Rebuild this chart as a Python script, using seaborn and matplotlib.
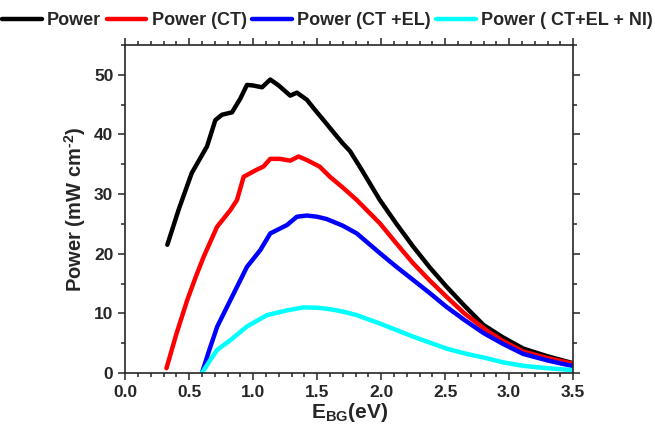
import numpy as np
import pandas as pd
import matplotlib
matplotlib.use("Agg")
import matplotlib.pyplot as plt
import seaborn as sns
from matplotlib.ticker import MultipleLocator

# data
x_power = [0.33, 0.42, 0.52, 0.60, 0.64, 0.705, 0.757, 0.835, 0.90, 0.952, 1.00, 1.07, 1.134, 1.20,
           1.29, 1.342, 1.42, 1.48, 1.55, 1.63, 1.70, 1.757, 1.85, 1.99, 2.12, 2.25, 2.38, 2.51,
           2.65, 2.80, 2.95, 3.11, 3.30, 3.49]
y_power = [21.5, 27.5, 33.5, 36.5, 38.0, 42.4, 43.3, 43.7, 46.0, 48.3, 48.2, 47.9, 49.2, 48.2,
           46.5, 47.0, 45.8, 44.2, 42.4, 40.3, 38.5, 37.2, 34.0, 29.0, 25.0, 21.2, 17.7, 14.5,
           11.3, 8.05, 6.0, 4.1, 2.8, 1.7]

x_ct = [0.323, 0.40, 0.485, 0.55, 0.614, 0.718, 0.822, 0.874, 0.926, 1.03, 1.08, 1.134, 1.21,
        1.29, 1.355, 1.42, 1.52, 1.60, 1.70, 1.81, 1.99, 2.12, 2.25, 2.38, 2.51, 2.65, 2.82,
        2.95, 3.11, 3.30, 3.49]
y_ct = [0.8, 6.5, 12.2, 16.0, 19.5, 24.5, 27.3, 29.0, 32.9, 34.1, 34.6, 35.9, 35.9,
        35.6, 36.3, 35.7, 34.6, 32.9, 31.1, 29.0, 25.1, 21.7, 18.4, 15.5, 12.8, 10.0, 7.2,
        5.4, 3.6, 2.5, 1.6]

x_ctel = [0.60, 0.66, 0.72, 0.822, 0.952, 1.056, 1.134, 1.264, 1.342, 1.42, 1.50, 1.576, 1.70,
          1.81, 1.99, 2.12, 2.25, 2.38, 2.51, 2.65, 2.80, 2.95, 3.11, 3.30, 3.49]
y_ctel = [0.0, 4.0, 7.8, 12.2, 17.8, 20.6, 23.4, 24.8, 26.2, 26.4, 26.2, 25.8, 24.7,
          23.4, 20.1, 17.8, 15.6, 13.4, 11.1, 8.9, 6.7, 4.9, 3.2, 2.1, 1.2]

x_ctelni = [0.60, 0.66, 0.72, 0.822, 0.952, 1.108, 1.264, 1.394, 1.50, 1.60, 1.70, 1.81, 1.99,
            2.12, 2.25, 2.38, 2.51, 2.65, 2.82, 2.95, 3.11, 3.30, 3.49]
y_ctelni = [0.0, 2.0, 3.9, 5.5, 7.8, 9.7, 10.5, 11.0, 10.95, 10.7, 10.3, 9.7, 8.3,
            7.2, 6.1, 5.1, 4.1, 3.3, 2.5, 1.8, 1.2, 0.8, 0.5]

labels = ["Power", "Power (CT)", "Power (CT +EL)", "Power ( CT+EL + NI)"]
colors = ["#000000", "#FF0000", "#0000FF", "#00FFFF"]

sns.set_style("ticks")
plt.rcParams["font.family"] = ["Liberation Sans", "DejaVu Sans"]
plt.rcParams["font.weight"] = "bold"
plt.rcParams["mathtext.fontset"] = "custom"
plt.rcParams["mathtext.rm"] = "Liberation Sans:bold"
plt.rcParams["mathtext.it"] = "Liberation Sans:bold"
plt.rcParams["mathtext.bf"] = "Liberation Sans:bold"
plt.rcParams["mathtext.default"] = "rm"

fig = plt.figure(figsize=(6.55, 4.28), dpi=100)
ax = fig.add_axes([0.191, 0.1285, 0.684, 0.7665])

series = [(x_power, y_power), (x_ct, y_ct), (x_ctel, y_ctel), (x_ctelni, y_ctelni)]
for (xs, ys), lab, c in zip(series, labels, colors):
    df = pd.DataFrame({"x": xs, "y": ys})
    sns.lineplot(data=df, x="x", y="y", ax=ax, color=c, lw=3.2, label=lab, sort=False)

ax.set_xlim(0, 3.5)
ax.set_ylim(0, 55)
ax.xaxis.set_minor_locator(MultipleLocator(0.1))
ax.yaxis.set_minor_locator(MultipleLocator(5))
ax.set_xticks([0, 0.5, 1.0, 1.5, 2.0, 2.5, 3.0, 3.5])
ax.set_xticklabels(["0.0", "0.5", "1.0", "1.5", "2.0", "2.5", "3.0", "3.5"])
ax.set_yticks([0, 10, 20, 30, 40, 50])
ax.tick_params(which="both", direction="out", top=True, right=True, width=1.1,
               labelsize=12.5)
ax.tick_params(which="major", length=5)
ax.tick_params(which="minor", length=3)
for s in ax.spines.values():
    s.set_linewidth(1.2)

ax.set_xlabel("E$_{BG}$(eV)", fontsize=15, fontweight="bold", labelpad=1)
ax.set_ylabel("Power (mW cm$^{\\text{-}2}$)", fontsize=14.5, fontweight="bold", labelpad=4)

ax.get_legend().remove()
handles, labs = ax.get_legend_handles_labels()
fig.legend(handles, labs, loc="upper center", bbox_to_anchor=(0.5, 1.01), ncol=4,
           frameon=False, handlelength=2.2, handletextpad=0.3,
           columnspacing=0.3, prop={"weight": "bold", "size": 13})

fig.savefig("out.png", dpi=100)
